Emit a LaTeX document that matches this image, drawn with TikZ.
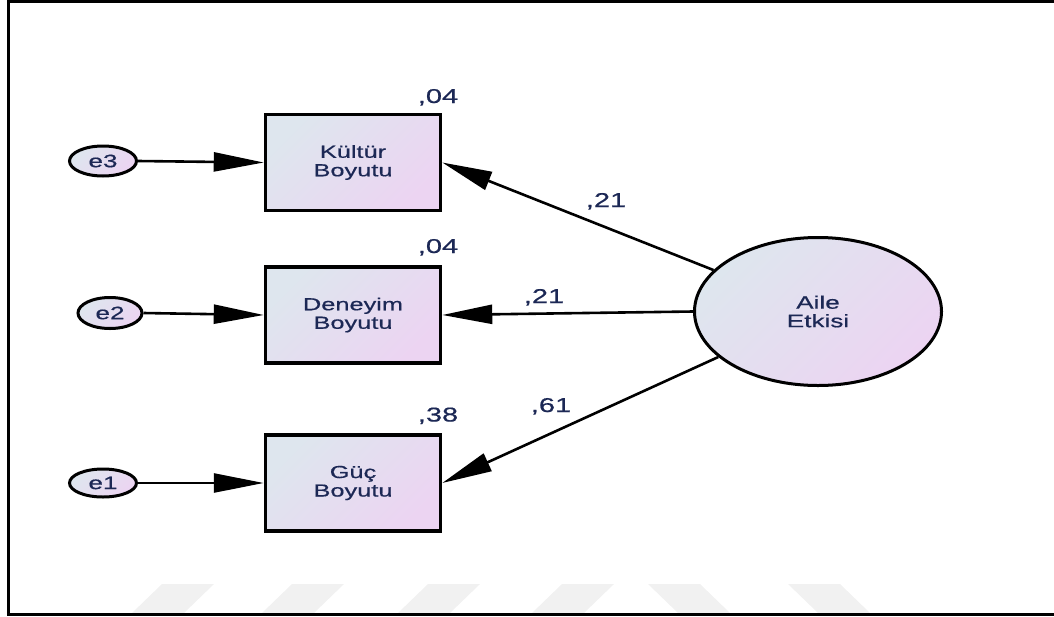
\documentclass[tikz,border=0pt]{standalone}
\usepackage{fontspec}
\setmainfont{Liberation Sans}[FakeStretch=1.45,FakeBold=0.6]
\usetikzlibrary{arrows.meta,shapes.geometric}

\definecolor{fillA}{RGB}{222,230,238}
\definecolor{fillB}{RGB}{236,212,242}
\definecolor{labelblue}{RGB}{28,40,85}
\definecolor{markgray}{RGB}{241,241,241}

\begin{document}
\begin{tikzpicture}[x=1pt,y=-1pt,
  shadedfill/.style={top color=fillA,bottom color=fillB,shading angle=45},
  observed/.style={draw,line width=3.5pt,shadedfill,rectangle,
    minimum width=175pt,minimum height=96pt,inner sep=0pt,align=center,
    font=\fontsize{17.5}{18.5}\selectfont,text=labelblue},
  errorterm/.style={draw,line width=3pt,shadedfill,ellipse,inner sep=0pt,
    font=\fontsize{18}{18}\selectfont,text=labelblue},
  latent/.style={draw,line width=3pt,shadedfill,ellipse,inner sep=0pt,
    minimum width=247pt,minimum height=148pt,align=center,
    font=\fontsize{18}{18.5}\selectfont,text=labelblue},
  estimate/.style={anchor=base,inner sep=0pt,text=labelblue,
    font=\fontsize{20}{22}\selectfont},
  regpath/.style={line width=2.6pt,-{Triangle[length=50pt,width=19pt]}},
  stripe/.style={fill=markgray,draw=none}]

\useasboundingbox (0,0) rectangle (1054,616);

% faint background stripes along the bottom edge
\fill[stripe] (162,584) -- (214,584) -- (184,613) -- (132,613) -- cycle;
\fill[stripe] (292,584) -- (344,584) -- (314,613) -- (262,613) -- cycle;
\fill[stripe] (428,584) -- (480,584) -- (450,613) -- (398,613) -- cycle;
\fill[stripe] (562,584) -- (614,584) -- (584,613) -- (532,613) -- cycle;
\fill[stripe] (648,584) -- (700,584) -- (730,613) -- (678,613) -- cycle;
\fill[stripe] (788,584) -- (840,584) -- (870,613) -- (818,613) -- cycle;

% frame
\draw[line width=3pt] (1054,1.5) -- (8,1.5) -- (8,614.5) -- (1054,614.5);

% observed variables
\node[observed] (kultur)  at (353,162.5) {Kültür\\Boyutu};
\node[observed] (deneyim) at (353,315)   {Deneyim\\Boyutu};
\node[observed] (guc)     at (353,483)   {Güç\\Boyutu};

% error terms
\node[errorterm,minimum width=67pt,minimum height=30pt] (e3) at (103,161) {e3};
\node[errorterm,minimum width=64pt,minimum height=31pt] (e2) at (110,313) {e2};
\node[errorterm,minimum width=67pt,minimum height=28pt] (e1) at (103,483) {e1};

% latent factor
\node[latent] (aile) at (818,311.5) {Aile\\Etkisi};

% error paths
\draw[regpath] (e3.east) -- (kultur.west);
\draw[regpath] (e2.east) -- (deneyim.west);
\draw[regpath] (e1.east) -- (guc.west);

% factor loadings
\draw[regpath] (aile) -- (kultur.east);
\draw[regpath] (aile.west) -- (deneyim.east);
\draw[regpath] (aile) -- (guc.east);

% squared multiple correlations
\node[estimate] (r2k) at (438,103) {,04};
\node[estimate] (r2d) at (438,253) {,04};
\node[estimate] (r2g) at (438,421.5) {,38};

% standardized loadings
\node[estimate] (lk) at (606,207) {,21};
\node[estimate] (ld) at (544,303) {,21};
\node[estimate] (lg) at (551,412) {,61};

\end{tikzpicture}
\end{document}
